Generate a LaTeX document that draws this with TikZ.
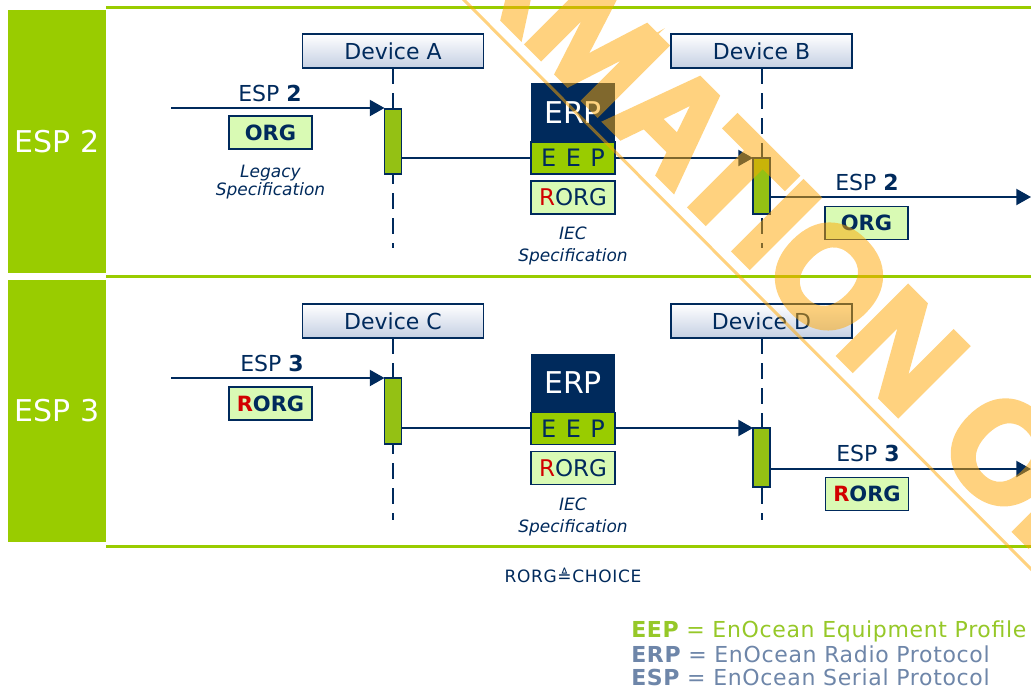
\documentclass[tikz,border=0pt]{standalone}
\usepackage{fontspec}
\setmainfont{DejaVu Sans}
\newfontfamily\wmfont[FakeBold=4.5]{Liberation Sans Bold}
\usetikzlibrary{positioning, arrows.meta}
\definecolor{navy}{RGB}{0,42,92}
\definecolor{lanegreen}{RGB}{153,204,0}
\definecolor{bargreen}{RGB}{148,193,20}
\definecolor{palegreen}{RGB}{217,250,180}
\definecolor{devblue}{RGB}{196,207,227}
\definecolor{rorgred}{RGB}{210,0,0}
\definecolor{slate}{RGB}{110,134,169}
\definecolor{legendgreen}{RGB}{150,200,40}
\definecolor{wmorange}{RGB}{255,167,0}
\newcommand{\redR}{\textcolor{rorgred}{R}}
\tikzset{lane/.style={fill=lanegreen, minimum width=73.5pt, inner sep=0pt, outer sep=0pt, text=white, font=\fontsize{22.5pt}{27pt}\selectfont},
  rule/.style={draw=lanegreen, line width=2.25pt},
  device/.style={draw=navy, line width=1.3pt, top color=white, bottom color=devblue, minimum width=135.75pt, minimum height=25.5pt, inner sep=0pt, outer sep=0pt, text=navy, font=\fontsize{16.5pt}{20pt}\selectfont},
  life/.style={navy, line width=1.5pt, dash pattern=on 12pt off 6.75pt},
  bar/.style={fill=bargreen, draw=navy, line width=1.1pt, minimum width=12.75pt, inner sep=0pt, outer sep=0pt},
  msg/.style={navy, line width=1.5pt, -{Triangle[length=11pt, width=12pt]}},
  esplabel/.style={text=navy, inner sep=0pt, font=\fontsize{16.5pt}{20pt}\selectfont},
  orgbox/.style={fill=palegreen, draw=navy, line width=1.1pt, minimum width=62.25pt, minimum height=24.75pt, inner sep=0pt, outer sep=0pt, text=navy, font=\bfseries\fontsize{15.75pt}{19pt}\selectfont},
  erpbox/.style={fill=navy, minimum width=63pt, minimum height=44.25pt, inner sep=0pt, outer sep=0pt, text=white, font=\fontsize{22.5pt}{27pt}\selectfont},
  eepbox/.style={fill=lanegreen, draw=navy, line width=1.1pt, minimum width=63pt, minimum height=24pt, inner sep=0pt, outer sep=0pt, text=navy, font=\fontsize{18pt}{21pt}\selectfont\addfontfeatures{LetterSpace=8}},
  rorgbox/.style={fill=palegreen, draw=navy, line width=1.1pt, minimum width=63pt, minimum height=24.75pt, inner sep=0pt, outer sep=0pt, text=navy, font=\fontsize{17.25pt}{20pt}\selectfont},
  spec/.style={text=navy, inner sep=0pt, align=center, font=\itshape\fontsize{12.75pt}{16.5pt}\selectfont},
  legend/.style={anchor=base west, inner sep=0pt, font=\fontsize{16.5pt}{20pt}\selectfont\addfontfeatures{LetterSpace=3}},
  wmark/.style={text=wmorange, inner sep=0pt, font=\wmfont\fontsize{105pt}{120pt}\selectfont},
}
\begin{document}
\begin{tikzpicture}[x=0.75pt, y=-0.75pt]
\useasboundingbox (0,0) rectangle (1031,697);
\clip (0,0) rectangle (1031,697);
\fill[white] (0,0) rectangle (1031,697);
% Lanes
\node[lane, minimum height=197.25pt] (esp2) at (57,141.5) {ESP 2};
\node[lane, minimum height=196.5pt] (esp3) at (57,411) {ESP 3};
\draw[rule] (106,7) -- (1031,7);
\draw[rule] (106,276) -- (1031,276);
\draw[rule] (106,546) -- (1031,546);
% Devices
\node[device] (devA) at (393,51) {Device A};
\node[device] (devB) at (761.5,51) {Device B};
\node[device] (devC) at (393,321) {Device C};
\node[device] (devD) at (761.5,321) {Device D};
\coordinate (endA) at (393,248);
\coordinate (endB) at (761.5,248);
\coordinate (endC) at (393,520);
\coordinate (endD) at (761.5,520);
\draw[life] (devA) -- (endA);
\draw[life] (devB) -- (endB);
\draw[life] (devC) -- (endC);
\draw[life] (devD) -- (endD);
\node[bar, minimum height=48.75pt] (barA) at (393,141.5) {};
\node[bar, minimum height=42pt] (barB) at (761.5,186) {};
\node[bar, minimum height=49.5pt] (barC) at (393,411) {};
\node[bar, minimum height=44.25pt] (barD) at (761.5,457.5) {};
% Messages
\coordinate (inA) at (171,108);
\coordinate (outB) at (1031,197);
\coordinate (inC) at (171,378);
\coordinate (outD) at (1031,469);
\draw[msg] (inA) -- (inA -| barA.west);
\draw[msg] (barA.east |- barB.north) -- (barB.north west);
\draw[msg] (barB.east |- outB) -- (outB);
\draw[msg] (inC) -- (inC -| barC.west);
\draw[msg] (barC.east |- barD.north) -- (barD.north west);
\draw[msg] (barD.east |- outD) -- (outD);
% Upper lane texts
\node[esplabel] (lblA) at (270,93) {ESP {\bfseries 2}};
\node[orgbox] (orgA) at (270.5,132.5) {ORG};
\node[spec, below=12pt of orgA, font=\itshape\fontsize{12.75pt}{13.5pt}\selectfont] (legacy) {Legacy\\Specification};
\node[erpbox] (erpA) at (573,112.5) {ERP};
\node[eepbox, below=0pt of erpA] (eepA) {E E P};
\node[rorgbox, below=5.25pt of eepA] (rorgA) {\redR ORG};
\node[spec, below=9.75pt of rorgA] (iecA) {IEC\\Specification};
\node[esplabel] (lblB) at (867,182) {ESP {\bfseries 2}};
\node[orgbox] (orgB) at (866.5,223) {ORG};
% Lower lane texts
\node[esplabel] (lblC) at (272,363) {ESP {\bfseries 3}};
\node[orgbox] (rorgC) at (270.5,403.5) {\redR ORG};
\node[erpbox] (erpC) at (573,383) {ERP};
\node[eepbox, below=0pt of erpC] (eepC) {E E P};
\node[rorgbox, below=5.25pt of eepC] (rorgE) {\redR ORG};
\node[spec, below=9.75pt of rorgE] (iecC) {IEC\\Specification};
\node[esplabel] (lblD) at (868,453) {ESP {\bfseries 3}};
\node[orgbox] (rorgD) at (867,494) {\redR ORG};
% Legend
\node[text=navy, inner sep=0pt, font=\fontsize{12.75pt}{15pt}\selectfont\addfontfeatures{LetterSpace=4}] (choice) at (573,575) {RORG≜CHOICE};
\node[legend, text=legendgreen] (eep) at (631,637) {{\bfseries EEP} = EnOcean Equipment Profile};
\node[legend, text=slate] (erp) at (631,662) {{\bfseries ERP} = EnOcean Radio Protocol};
\node[legend, text=slate] (esp) at (631,685) {{\bfseries ESP} = EnOcean Serial Protocol};
% Watermark
\begin{scope}[transparency group, opacity=0.5]
\coordinate (wmstart) at (452,-12);
\coordinate (wmend) at (1045,583);
\draw[wmorange, line width=2.25pt] (wmstart) -- (wmend);
\node[wmark, anchor=base, rotate=-45] (wm) at (706,222) {INFORMATION ONLY};
\end{scope}
\end{tikzpicture}
\end{document}
